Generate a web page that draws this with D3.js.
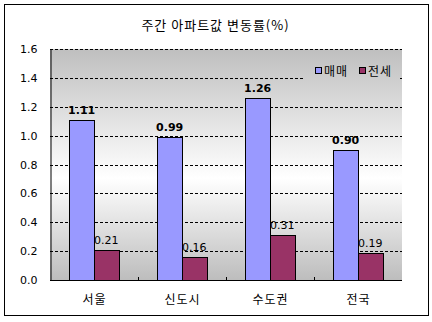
<!DOCTYPE html>
<html>
<head>
<meta charset="utf-8">
<script src="https://cdn.jsdelivr.net/npm/d3@7"></script>
<style>
  html, body { margin: 0; padding: 0; background: #fff; }
  svg { display: block; }
  .kr { font-family: "Noto Sans CJK KR", sans-serif; }
  .num { font-family: "DejaVu Sans", "Liberation Sans", sans-serif; }
</style>
</head>
<body>
<svg id="chart" width="432" height="322"></svg>
<script>
// Weekly apartment price change rate (%)
const title = "주간 아파트값 변동률(%)";
const categories = ["서울", "신도시", "수도권", "전국"];
const seriesNames = ["매매", "전세"];
const saleValues = [1.11, 0.99, 1.26, 0.90];
const leaseValues = [0.21, 0.16, 0.31, 0.19];
const yTicks = [0.0, 0.2, 0.4, 0.6, 0.8, 1.0, 1.2, 1.4, 1.6];

const colors = ["#9999ff", "#993366"];

const svg = d3.select("#chart");
const plot = { left: 50, right: 402, top: 49, bottom: 280 };

// Hangul labels are spread a little wider than the font's natural advance
const spread = (sel, px) => sel.attr("textLength", function () {
  return this.getComputedTextLength() + px * (this.textContent.length - 1);
}).attr("lengthAdjust", "spacing");

// outer frame
svg.append("rect")
  .attr("x", 4.5).attr("y", 4.5).attr("width", 424).attr("height", 311)
  .attr("fill", "#fff").attr("stroke", "#000").attr("stroke-width", 1);

// title
svg.append("text").attr("class", "kr")
  .attr("x", 215).attr("y", 30)
  .attr("text-anchor", "middle")
  .attr("font-size", 13)
  .attr("fill", "#000")
  .text(title)
  .call(spread, 1);

const x = d3.scaleBand().domain(categories).range([plot.left, plot.right]);
const y = d3.scaleLinear().domain([0, 1.6]).range([plot.bottom, plot.top]);

// plot-area background: gray at top and bottom, white in the middle
const defs = svg.append("defs");
const grad = defs.append("linearGradient").attr("id", "bg")
  .attr("gradientUnits", "userSpaceOnUse")
  .attr("x1", 0).attr("x2", 0).attr("y1", plot.top).attr("y2", plot.bottom);
grad.append("stop").attr("offset", "0%").attr("stop-color", "#bfbfbf");
grad.append("stop").attr("offset", "56%").attr("stop-color", "#ffffff");
grad.append("stop").attr("offset", "100%").attr("stop-color", "#bdbdbd");

svg.append("rect")
  .attr("x", plot.left).attr("y", plot.top)
  .attr("width", plot.right - plot.left).attr("height", plot.bottom - plot.top)
  .attr("fill", "url(#bg)");

// dashed gridlines
svg.append("g").selectAll("line")
  .data(yTicks.filter(d => d > 0))
  .join("line")
  .attr("x1", plot.left).attr("x2", plot.right)
  .attr("y1", d => Math.round(y(d)) + 0.5).attr("y2", d => Math.round(y(d)) + 0.5)
  .attr("stroke", "#000").attr("stroke-width", 1)
  .attr("stroke-dasharray", "3,2");

// y axis
const yAxis = d3.axisLeft(y).tickValues(yTicks).tickFormat(d3.format(".1f")).tickSize(0).tickPadding(13);
const gy = svg.append("g")
  .attr("transform", `translate(${plot.left + 0.5},0)`)
  .call(yAxis);
gy.select(".domain").attr("stroke", "#000");
gy.selectAll("text").attr("class", "num").attr("font-size", 11).attr("fill", "#000")
  .attr("font-family", null);

// bars
const inner = d3.scaleBand().domain(seriesNames).range([0, x.bandwidth()]).paddingInner(0).paddingOuter(0.78);
const rows = categories.map((c, i) => ({ c, vals: [saleValues[i], leaseValues[i]] }));

const groups = svg.append("g").selectAll("g")
  .data(rows).join("g")
  .attr("transform", d => `translate(${x(d.c)},0)`);

groups.selectAll("rect")
  .data(d => d.vals.map((v, k) => ({ k, v })))
  .join("rect")
  .attr("x", d => Math.round(inner(seriesNames[d.k])) + 0.5)
  .attr("y", d => Math.round(y(d.v)) + 0.5)
  .attr("width", Math.round(inner.bandwidth()))
  .attr("height", d => Math.round(y(0)) - Math.round(y(d.v)))
  .attr("fill", d => colors[d.k])
  .attr("stroke", "#000").attr("stroke-width", 1);

// value labels
groups.selectAll("text.val")
  .data(d => d.vals.map((v, k) => ({ k, v })))
  .join("text")
  .attr("class", "val num")
  .attr("x", d => inner(seriesNames[d.k]) + inner.bandwidth() / 2)
  .attr("y", d => y(d.v) - 6)
  .attr("text-anchor", "middle")
  .attr("font-size", 11)
  .attr("font-weight", d => d.k === 0 ? "bold" : "normal")
  .attr("fill", "#000")
  .text(d => d.v.toFixed(2));

// x axis line and category boundary ticks
svg.append("line")
  .attr("x1", plot.left).attr("x2", plot.right)
  .attr("y1", plot.bottom + 0.5).attr("y2", plot.bottom + 0.5)
  .attr("stroke", "#000");
svg.append("g").selectAll("line")
  .data(categories.slice(1))
  .join("line")
  .attr("x1", d => Math.round(x(d)) + 0.5).attr("x2", d => Math.round(x(d)) + 0.5)
  .attr("y1", plot.bottom - 3).attr("y2", plot.bottom)
  .attr("stroke", "#000");

// category labels
svg.append("g").selectAll("text")
  .data(categories)
  .join("text")
  .attr("class", "kr")
  .attr("x", d => x(d) + x.bandwidth() / 2)
  .attr("y", 304)
  .attr("text-anchor", "middle")
  .attr("font-size", 12)
  .attr("fill", "#000")
  .text(d => d)
  .call(spread, 1);

// legend (drawn over the gridline with the same background)
const legend = svg.append("g");
legend.append("rect")
  .attr("x", 305).attr("y", 62).attr("width", 94).attr("height", 19)
  .attr("fill", "url(#bg)");
const legendX = [315, 359];
seriesNames.forEach((name, k) => {
  legend.append("rect")
    .attr("x", legendX[k] + 0.5).attr("y", 67.5).attr("width", 6).attr("height", 6)
    .attr("fill", colors[k]).attr("stroke", "#000").attr("stroke-width", 1);
  legend.append("text").attr("class", "kr")
    .attr("x", legendX[k] + 9).attr("y", 76)
    .attr("font-size", 12)
    .attr("fill", "#000")
    .text(name)
    .call(spread, 1);
});
</script>
</body>
</html>
